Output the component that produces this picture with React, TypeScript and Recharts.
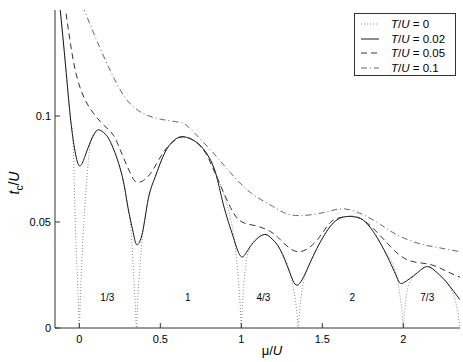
import { LineChart, Line, XAxis, YAxis, ReferenceDot } from 'recharts'

const FONT = '"Liberation Sans", Arial, Helvetica, sans-serif'
const AXIS = '#333'

const muTicks = [0, 0.5, 1, 1.5, 2]
const tcTicks = [0, 0.05, 0.1]
const seriesNames = ['0', '0.02', '0.05', '0.1']

// T/U = 0 (dotted, drops to zero at the lobe tips)
const t0Mu = [-0.12, -0.085, -0.056, -0.04, -0.03, -0.019, -0.006, 0, 0.006, 0.019, 0.037, 0.055, 0.068, 0.1, 0.125, 0.16, 0.204, 0.265, 0.3, 0.32, 0.335, 0.346, 0.353, 0.36, 0.375, 0.39, 0.41, 0.426, 0.47, 0.53, 0.593, 0.645, 0.716, 0.78, 0.84, 0.9, 0.95, 0.97, 0.985, 0.995, 1.0, 1.005, 1.015, 1.03, 1.055, 1.136, 1.19, 1.24, 1.3, 1.325, 1.342, 1.352, 1.36, 1.375, 1.4, 1.426, 1.506, 1.59, 1.673, 1.74, 1.8, 1.88, 1.96, 1.98, 1.993, 2.0, 2.007, 2.02, 2.05, 2.086, 2.15, 2.21, 2.27, 2.32, 2.34, 2.35]
const t0Tc = [0.152, 0.124, 0.1, 0.09, 0.065, 0.037, 0.013, 0, 0.013, 0.037, 0.06, 0.078, 0.0877, 0.0925, 0.0934, 0.0915, 0.0858, 0.0716, 0.057, 0.046, 0.026, 0.01, 0, 0.012, 0.03, 0.043, 0.054, 0.061, 0.0716, 0.083, 0.089, 0.0902, 0.088, 0.083, 0.0735, 0.061, 0.045, 0.033, 0.02, 0.008, 0, 0.008, 0.02, 0.031, 0.0384, 0.044, 0.042, 0.037, 0.026, 0.017, 0.008, 0, 0.008, 0.018, 0.026, 0.031, 0.043, 0.051, 0.0526, 0.0515, 0.047, 0.037, 0.024, 0.015, 0.007, 0, 0.007, 0.016, 0.023, 0.026, 0.029, 0.026, 0.0213, 0.013, 0.006, 0]

// T/U = 0.02 (solid)
const t02Mu = [-0.12, -0.085, -0.056, -0.03, 0, 0.035, 0.068, 0.1, 0.125, 0.16, 0.204, 0.265, 0.3, 0.333, 0.355, 0.39, 0.426, 0.47, 0.53, 0.593, 0.645, 0.716, 0.78, 0.84, 0.89, 0.95, 1.0, 1.055, 1.136, 1.19, 1.24, 1.3, 1.352, 1.426, 1.506, 1.59, 1.673, 1.74, 1.8, 1.88, 1.96, 2.0, 2.086, 2.15, 2.21, 2.27, 2.35]
const t02Tc = [0.152, 0.124, 0.1, 0.085, 0.0765, 0.081, 0.0877, 0.0925, 0.0934, 0.0915, 0.0858, 0.0716, 0.057, 0.045, 0.0393, 0.045, 0.061, 0.0716, 0.083, 0.089, 0.0902, 0.088, 0.083, 0.0735, 0.058, 0.043, 0.0336, 0.0384, 0.044, 0.042, 0.037, 0.026, 0.0204, 0.031, 0.043, 0.051, 0.0526, 0.0515, 0.047, 0.037, 0.024, 0.0213, 0.026, 0.029, 0.026, 0.0213, 0.0133]

// T/U = 0.05 (dashed)
const t05Mu = [-0.09, -0.05, -0.01, 0.04, 0.1, 0.16, 0.21, 0.253, 0.315, 0.364, 0.44, 0.52, 0.59, 0.645, 0.716, 0.78, 0.83, 0.89, 0.95, 1.01, 1.1, 1.18, 1.24, 1.35, 1.47, 1.55, 1.62, 1.673, 1.74, 1.84, 1.96, 2.06, 2.17, 2.26, 2.35]
const t05Tc = [0.153, 0.132, 0.117, 0.107, 0.1, 0.095, 0.091, 0.084, 0.073, 0.0687, 0.073, 0.083, 0.0885, 0.0902, 0.088, 0.0825, 0.0745, 0.064, 0.0545, 0.0498, 0.048, 0.0455, 0.0417, 0.036, 0.0417, 0.0498, 0.0522, 0.0527, 0.0515, 0.045, 0.0355, 0.0313, 0.0299, 0.027, 0.024]

// T/U = 0.1 (dash-dot)
const t1Mu = [0.02, 0.1, 0.2, 0.3, 0.4, 0.5, 0.62, 0.685, 0.81, 0.93, 1.055, 1.18, 1.26, 1.36, 1.51, 1.63, 1.75, 1.86, 1.96, 2.09, 2.21, 2.35]
const t1Tc = [0.152, 0.137, 0.12, 0.107, 0.101, 0.0985, 0.097, 0.094, 0.084, 0.0735, 0.064, 0.058, 0.0545, 0.053, 0.0545, 0.0562, 0.0535, 0.0488, 0.044, 0.04, 0.038, 0.036]

// filling labels inside the lobes
const lobeLabels = ['1/3', '1', '4/3', '2', '7/3']
const lobeMu = [0.173, 0.67, 1.136, 1.685, 2.148]
const lobeTc = [0.0145, 0.0145, 0.0145, 0.0145, 0.0145]

const zip = (mu: number[], tc: number[]) => mu.map((m, i) => ({ mu: m, tc: tc[i] }))

const series = [
  { name: seriesNames[0], data: zip(t0Mu, t0Tc), stroke: '#8a8a8a', dash: '1 2', curve: 'monotone' },
  { name: seriesNames[1], data: zip(t02Mu, t02Tc), stroke: '#1a1a1a', dash: undefined, curve: 'natural' },
  { name: seriesNames[2], data: zip(t05Mu, t05Tc), stroke: '#333', dash: '6 4', curve: 'natural' },
  { name: seriesNames[3], data: zip(t1Mu, t1Tc), stroke: '#666', dash: '6 3 1 3', curve: 'natural' },
]

const fmt = (v: number) => String(v)

const BottomTick = (props: any) => {
  const { x, y, payload } = props
  return (
    <g>
      <line x1={x} x2={x} y1={y - 6} y2={y - 11} stroke={AXIS} />
      <text x={x} y={y} dy="0.78em" textAnchor="middle" fontSize={11} fontFamily={FONT} fill="#000">
        {fmt(payload.value)}
      </text>
    </g>
  )
}

const LeftTick = (props: any) => {
  const { x, y, payload } = props
  return (
    <g>
      <line x1={x + 4} x2={x + 9} y1={y} y2={y} stroke={AXIS} />
      <text x={x} y={y} dy="0.35em" textAnchor="end" fontSize={11} fontFamily={FONT} fill="#000">
        {fmt(payload.value)}
      </text>
    </g>
  )
}

const TopTick = (props: any) => {
  const { x, y } = props
  return <line x1={x} x2={x} y1={y} y2={y + 5} stroke={AXIS} />
}

const RightTick = (props: any) => {
  const { x, y } = props
  return <line x1={x} x2={x - 5} y1={y} y2={y} stroke={AXIS} />
}

const XTitle = () => (
  <text x={272} y={355} textAnchor="middle" fontSize={13} fontFamily={FONT} fill="#000">
    μ/<tspan fontStyle="italic">U</tspan>
  </text>
)

const YTitle = () => (
  <text transform="translate(19,183) rotate(-90)" textAnchor="middle" fontSize={14} fontFamily={FONT} fill="#000">
    <tspan fontStyle="italic">t</tspan>
    <tspan fontSize={10} dy={4}>c</tspan>
    <tspan dy={-4}>/</tspan>
    <tspan fontStyle="italic">U</tspan>
  </text>
)

function LegendBox() {
  return (
    <div
      style={{
        position: 'absolute',
        left: 354,
        top: 13,
        width: 102,
        height: 63,
        border: '1px solid #333',
        background: '#fff',
        fontFamily: FONT,
        fontSize: 11.5,
        paddingTop: 3,
        boxSizing: 'border-box',
      }}
    >
      {series.map((s) => (
        <div key={s.name} style={{ display: 'flex', alignItems: 'center', height: 14.5 }}>
          <svg width={36} height={10} style={{ display: 'block' }}>
            <line x1={6} x2={24} y1={5} y2={5} stroke={s.stroke} strokeDasharray={s.dash} />
          </svg>
          <span>
            <i>T</i>/<i>U</i> = {s.name}
          </span>
        </div>
      ))}
    </div>
  )
}

export default function App() {
  return (
    <div style={{ position: 'absolute', left: 0, top: 0, width: 463, height: 362, background: '#fff' }}>
      <LineChart width={463} height={362} margin={{ top: 10, right: 3, bottom: 0, left: 0 }}>
        <XAxis
          dataKey="mu"
          type="number"
          domain={[-0.15, 2.35]}
          ticks={muTicks}
          allowDataOverflow
          height={34}
          stroke={AXIS}
          tickLine={false}
          tickSize={0}
          tickMargin={6}
          tick={<BottomTick />}
          label={<XTitle />}
        />
        <XAxis
          xAxisId="top"
          orientation="top"
          type="number"
          domain={[-0.15, 2.35]}
          ticks={muTicks}
          allowDataOverflow
          height={0}
          stroke={AXIS}
          tickLine={false}
          tickSize={0}
          tickMargin={0}
          tick={<TopTick />}
        />
        <YAxis
          dataKey="tc"
          type="number"
          domain={[0, 0.15]}
          ticks={tcTicks}
          allowDataOverflow
          width={55}
          stroke={AXIS}
          tickLine={false}
          tickSize={0}
          tickMargin={4}
          tick={<LeftTick />}
          label={<YTitle />}
        />
        <YAxis
          yAxisId="right"
          orientation="right"
          type="number"
          domain={[0, 0.15]}
          ticks={tcTicks}
          allowDataOverflow
          width={0}
          stroke={AXIS}
          tickLine={false}
          tickSize={0}
          tickMargin={0}
          tick={<RightTick />}
        />
        {series.map((s) => (
          <Line
            key={s.name}
            data={s.data}
            dataKey="tc"
            type={s.curve as any}
            stroke={s.stroke}
            strokeWidth={1}
            strokeDasharray={s.dash}
            dot={false}
            isAnimationActive={false}
          />
        ))}
        {lobeLabels.map((lab, i) => (
          <ReferenceDot
            key={lab}
            x={lobeMu[i]}
            y={lobeTc[i]}
            r={0}
            fill="none"
            stroke="none"
            label={{ value: lab, position: 'center', fontSize: 10, fontFamily: FONT, fill: '#000' }}
          />
        ))}
      </LineChart>
      <LegendBox />
    </div>
  )
}
